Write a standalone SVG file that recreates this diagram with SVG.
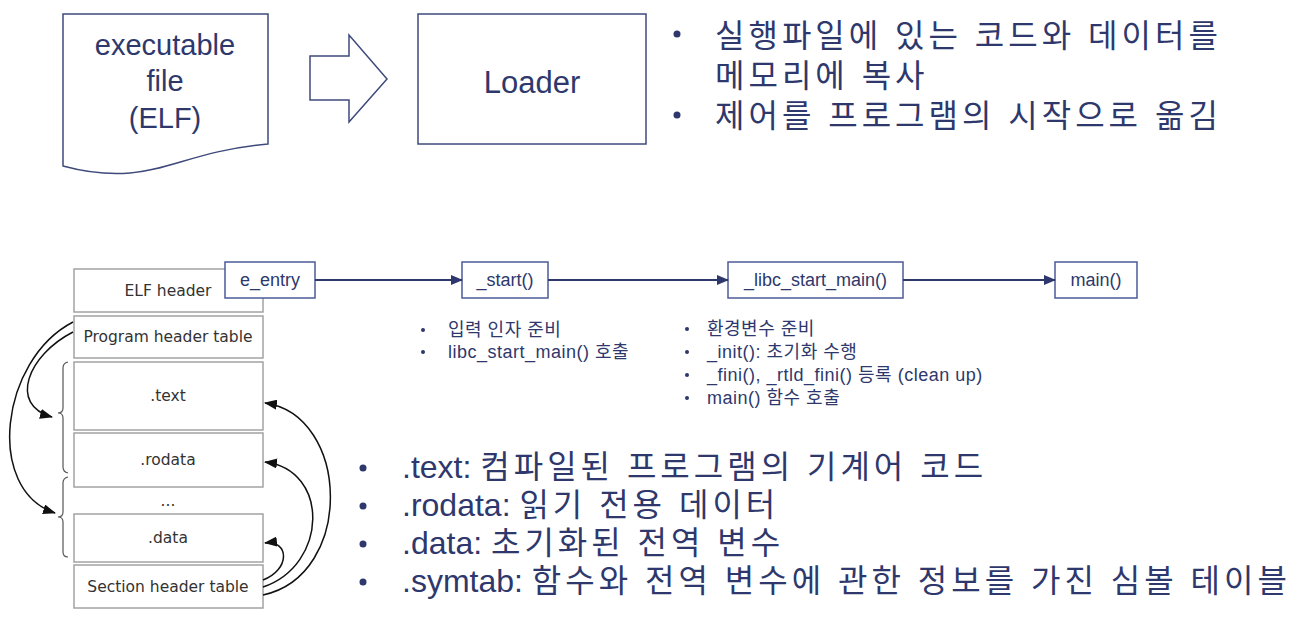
<svg xmlns="http://www.w3.org/2000/svg" width="1302" height="622" viewBox="0 0 1302 622">
<style>
  .nv { fill: #2e386c; font-family: "Liberation Sans", "Noto Sans CJK KR", sans-serif; }
  .big { font-size: 29px; }
  .kr { font-size: 32px; letter-spacing: 4px; }
  .lat { font-size: 32px; letter-spacing: 0px; }
  .sm { font-size: 18px; letter-spacing: 0.5px; }
  .box { font-size: 18px; }
  .shape { fill: #fff; stroke: #3f4a7c; stroke-width: 1.5; }
  .fbox { fill: #fff; stroke: #4d5b98; stroke-width: 1.5; }
  .row { fill: #fff; stroke: #a3a3a3; stroke-width: 1.5; }
  .rt { fill: #333; font-family: "DejaVu Sans", sans-serif; font-size: 15.5px; text-anchor: middle; }
  .flow { stroke: #2e386c; stroke-width: 2; fill: none; }
  .bk { stroke: #111; stroke-width: 1.5; fill: none; }
  .brace { stroke: #555; stroke-width: 1.2; fill: none; }
  .dot { fill: #2e386c; }
</style>
<defs>
  <marker id="navyHead" markerUnits="userSpaceOnUse" markerWidth="12" markerHeight="10" refX="11" refY="5" orient="auto">
    <path d="M0,0 L12,5 L0,10 Z" fill="#2e386c"/>
  </marker>
  <marker id="blackHead" markerUnits="userSpaceOnUse" markerWidth="13" markerHeight="10" refX="12" refY="5" orient="auto">
    <path d="M0,0 L13,5 L0,10 Z" fill="#111"/>
  </marker>
</defs>
<rect width="1302" height="622" fill="#fff"/>

<g id="executable-file">
  <path class="shape" d="M63,14 H268 V144 C200,150 170,170 130,173 C105,175 85,172 63,166 Z"/>
  <text class="nv big" x="165" y="55" text-anchor="middle">executable</text>
  <text class="nv big" x="165" y="91" text-anchor="middle">file</text>
  <text class="nv big" x="165" y="128" text-anchor="middle">(ELF)</text>
</g>

<g id="block-arrow">
  <polygon class="shape" points="310,56 349,56 349,35 387,79 349,122 349,100 310,100"/>
</g>

<g id="loader">
  <rect class="shape" x="418" y="14" width="228" height="130"/>
  <text class="nv" x="532" y="93" font-size="31" text-anchor="middle">Loader</text>
</g>

<g id="loader-notes">
  <circle class="dot" cx="677" cy="34" r="3.5"/>
  <circle class="dot" cx="677" cy="115" r="3.5"/>
  <text class="nv kr" x="715" y="47">실행파일에 있는 코드와 데이터를</text>
  <text class="nv kr" x="715" y="87">메모리에 복사</text>
  <text class="nv kr" x="715" y="127">제어를 프로그램의 시작으로 옮김</text>
</g>

<g id="elf-table">
  <g id="row-elf-header">
    <rect class="row" x="74" y="269" width="189" height="43"/>
    <text class="rt" x="168" y="296">ELF header</text>
  </g>
  <g id="row-program-header">
    <rect class="row" x="74" y="316" width="189" height="42"/>
    <text class="rt" x="168" y="342">Program header table</text>
  </g>
  <g id="row-text">
    <rect class="row" x="74" y="362" width="189" height="68"/>
    <text class="rt" x="168" y="401">.text</text>
  </g>
  <g id="row-rodata">
    <rect class="row" x="74" y="433" width="189" height="54"/>
    <text class="rt" x="168" y="465">.rodata</text>
  </g>
  <g id="row-ellipsis">
    <text class="rt" x="168" y="506">...</text>
  </g>
  <g id="row-data">
    <rect class="row" x="74" y="514" width="189" height="48"/>
    <text class="rt" x="168" y="543">.data</text>
  </g>
  <g id="row-section-header">
    <rect class="row" x="74" y="565" width="189" height="43"/>
    <text class="rt" x="168" y="592">Section header table</text>
  </g>
  <path class="brace" d="M68,362 Q63,363 63,368 V408 Q63,413 58,413 Q63,413 63,418 V467 Q63,472 68,473"/>
  <path class="brace" d="M68,477 Q63,478 63,483 V512 Q63,517 58,517 Q63,517 63,522 V552 Q63,557 68,557"/>
</g>

<g id="e_entry">
  <rect class="fbox" x="225" y="262" width="90" height="36"/>
  <text class="nv box" x="270" y="286" text-anchor="middle">e_entry</text>
</g>
<g id="start">
  <rect class="fbox" x="462" y="262" width="86" height="36"/>
  <text class="nv box" x="505" y="286" text-anchor="middle">_start()</text>
</g>
<g id="libc_start_main">
  <rect class="fbox" x="728" y="262" width="175" height="36"/>
  <text class="nv box" x="815.5" y="286" text-anchor="middle">_libc_start_main()</text>
</g>
<g id="main">
  <rect class="fbox" x="1055" y="262" width="82" height="36"/>
  <text class="nv box" x="1096" y="286" text-anchor="middle">main()</text>
</g>

<g id="start-notes">
  <circle class="dot" cx="423" cy="330" r="2"/>
  <circle class="dot" cx="423" cy="352" r="2"/>
  <text class="nv sm" x="448" y="336">입력 인자 준비</text>
  <text class="nv sm" x="448" y="358">libc_start_main() 호출</text>
</g>

<g id="libc-notes">
  <circle class="dot" cx="687" cy="329" r="2"/>
  <circle class="dot" cx="687" cy="352" r="2"/>
  <circle class="dot" cx="687" cy="375" r="2"/>
  <circle class="dot" cx="687" cy="398" r="2"/>
  <text class="nv sm" x="707" y="335">환경변수 준비</text>
  <text class="nv sm" x="707" y="358">_init(): 초기화 수행</text>
  <text class="nv sm" x="707" y="381">_fini(), _rtld_fini() 등록 (clean up)</text>
  <text class="nv sm" x="707" y="404">main() 함수 호출</text>
</g>

<g id="section-notes">
  <circle class="dot" cx="363" cy="468" r="3.5"/>
  <circle class="dot" cx="363" cy="506" r="3.5"/>
  <circle class="dot" cx="363" cy="544" r="3.5"/>
  <circle class="dot" cx="363" cy="582" r="3.5"/>
  <text class="nv" x="402" y="478"><tspan class="lat">.text: </tspan><tspan class="kr">컴파일된 프로그램의 기계어 코드</tspan></text>
  <text class="nv" x="402" y="516"><tspan class="lat">.rodata: </tspan><tspan class="kr">읽기 전용 데이터</tspan></text>
  <text class="nv" x="402" y="554"><tspan class="lat">.data: </tspan><tspan class="kr">초기화된 전역 변수</tspan></text>
  <text class="nv" x="402" y="592"><tspan class="lat">.symtab: </tspan><tspan class="kr">함수와 전역 변수에 관한 정보를 가진 심볼 테이블</tspan></text>
</g>

<g id="connectors">
  <line class="flow" x1="315" y1="280" x2="462" y2="280" marker-end="url(#navyHead)"/>
  <line class="flow" x1="548" y1="280" x2="728" y2="280" marker-end="url(#navyHead)"/>
  <line class="flow" x1="903" y1="280" x2="1055" y2="280" marker-end="url(#navyHead)"/>
  <path class="bk" d="M73,332 C28,355 8,405 52,417" marker-end="url(#blackHead)"/>
  <path class="bk" d="M73,322 C0,360 -15,490 55,513" marker-end="url(#blackHead)"/>
  <path class="bk" d="M263,580 C290,570 290,540 265,543" marker-end="url(#blackHead)"/>
  <path class="bk" d="M263,587 C328,565 330,470 265,462" marker-end="url(#blackHead)"/>
  <path class="bk" d="M263,595 C355,575 350,415 265,403" marker-end="url(#blackHead)"/>
</g>
</svg>
